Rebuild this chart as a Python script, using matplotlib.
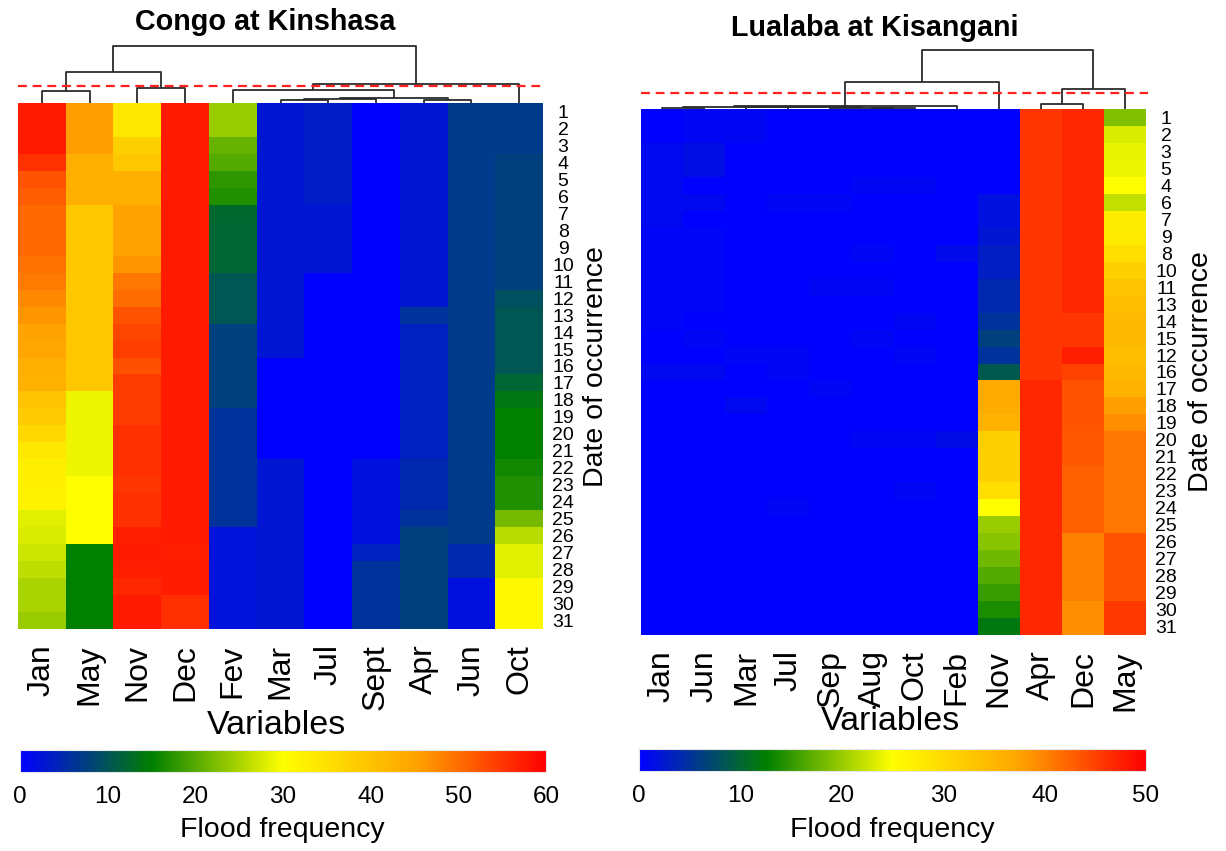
import numpy as np
import matplotlib
matplotlib.use("Agg")
import matplotlib.pyplot as plt
from matplotlib.colors import LinearSegmentedColormap, Normalize
from matplotlib.cm import ScalarMappable

plt.rcParams['font.family'] = ['Liberation Sans', 'DejaVu Sans']

# ---------------- data ----------------
left_title = "Congo at Kinshasa"
left_cols = ["Jan", "May", "Nov", "Dec", "Fev", "Mar", "Jul", "Sept", "Apr", "Jun", "Oct"]
left_rows = [str(i) for i in range(1, 32)]
left_vmax = 60
l_jan = [57.6, 57.6, 57.6, 55.4, 52.3, 51.5, 50.3, 50.3, 50.3, 49.6, 48.8, 47.5, 46.2, 45.0, 44.6, 43.2,
         43.0, 39.8, 38.5, 36.5, 33.8, 32.8, 32.5, 32.3, 28.2, 27.7, 27.0, 26.2, 25.0, 25.0, 24.0]
l_may = [45.5, 45.5, 45.5, 43.2, 43.2, 43.2, 39.2, 39.2, 39.2, 39.2, 39.2, 39.2, 39.2, 39.2, 39.2, 39.2,
         39.2, 29.0, 29.0, 29.0, 29.0, 29.0, 30.0, 30.0, 30.0, 30.0, 15.0, 15.0, 15.0, 15.0, 15.0]
l_nov = [33.8, 33.8, 37.8, 39.2, 43.2, 43.2, 45.0, 45.0, 45.0, 46.2, 49.1, 50.0, 52.3, 53.5, 54.2, 52.7,
         54.5, 54.5, 54.5, 55.6, 55.6, 55.6, 54.9, 55.6, 55.6, 57.1, 57.6, 57.1, 56.4, 57.6, 57.6]
l_dec = [57.6, 57.6, 57.6, 57.6, 57.6, 57.6, 57.6, 57.6, 57.6, 57.6, 57.6, 57.6, 57.6, 57.6, 57.6, 57.6,
         57.6, 57.6, 57.6, 57.6, 57.6, 57.6, 57.6, 57.6, 57.6, 57.6, 57.1, 57.4, 57.4, 55.6, 55.6]
l_fev = [24.0, 24.0, 21.0, 20.0, 17.6, 16.9, 12.4, 12.0, 12.0, 12.0, 10.3, 10.3, 10.3, 7.5, 7.5, 7.5,
         7.5, 7.5, 6.0, 6.0, 6.0, 6.0, 6.0, 6.0, 6.0, 2.3, 2.3, 2.3, 2.3, 2.3, 2.3]
l_mar = [2.8, 2.8, 2.8, 2.8, 2.8, 2.8, 2.8, 2.8, 2.8, 2.8, 2.8, 2.8, 2.8, 2.8, 2.8, 0.0,
         0.0, 0.0, 0.0, 0.0, 0.0, 2.8, 2.8, 2.8, 2.8, 2.8, 2.8, 2.8, 2.8, 2.8, 2.8]
l_jul = [3.5, 3.5, 3.5, 3.5, 3.5, 3.5, 2.8, 2.8, 2.8, 2.8, 0.0, 0.0, 0.0, 0.0, 0.0, 0.0,
         0.0, 0.0, 0.0, 0.0, 0.0, 0.0, 0.0, 0.0, 0.0, 0.0, 0.0, 0.0, 0.0, 0.0, 0.0]
l_sept = [0.0, 0.0, 0.0, 0.0, 0.0, 0.0, 0.0, 0.0, 0.0, 0.0, 0.0, 0.0, 0.0, 0.0, 0.0, 0.0,
          0.0, 0.0, 0.0, 0.0, 0.0, 1.9, 1.9, 1.9, 1.9, 1.9, 3.75, 6.0, 6.0, 6.0, 6.0]
l_apr = [2.8, 2.8, 2.8, 2.8, 2.8, 2.8, 2.8, 2.8, 2.8, 2.8, 2.8, 2.8, 6.0, 3.75, 3.75, 3.75,
         3.75, 3.75, 3.75, 3.75, 3.75, 4.7, 4.7, 4.7, 6.0, 7.5, 7.5, 7.5, 7.5, 7.5, 7.5]
l_jun = [6.8, 6.8, 6.8, 6.8, 6.8, 6.8, 6.8, 6.8, 6.8, 6.8, 6.8, 6.8, 6.8, 6.8, 6.8, 6.8,
         6.8, 6.8, 6.8, 6.8, 6.8, 6.8, 6.8, 6.8, 6.8, 6.8, 4.9, 4.9, 1.9, 1.9, 1.9]
l_oct = [6.8, 6.8, 6.8, 7.5, 7.5, 7.5, 7.5, 7.5, 7.5, 7.5, 7.5, 9.4, 10.3, 10.3, 10.3, 10.3,
         12.0, 14.0, 15.0, 15.0, 15.0, 16.0, 16.9, 16.9, 22.0, 26.0, 28.2, 28.2, 31.0, 31.0, 31.0]
# dendrogram merges (leaf ids 0..10, cluster ids continue from 11)
left_merge_a = [0, 2, 5, 13, 8, 14, 4, 17, 11, 19]
left_merge_b = [1, 3, 6, 7, 9, 15, 16, 10, 12, 18]
left_merge_h = [12.3, 14.7, 3.3, 4.0, 3.0, 5.0, 13.3, 19.0, 31.3, 57.3]
left_cut = 16.7

right_title = "Lualaba at Kisangani"
right_cols = ["Jan", "Jun", "Mar", "Jul", "Sep", "Aug", "Oct", "Feb", "Nov", "Apr", "Dec", "May"]
right_rows = ["1", "2", "3", "5", "4", "6", "7", "9", "8", "10", "11", "13", "14", "15", "12", "16",
              "17", "18", "19", "20", "21", "22", "23", "24", "25", "26", "27", "28", "29", "30", "31"]
right_vmax = 50
r_jan = [0, 0, 0.8, 0.8, 0.8, 0.8, 0.8, 0.5, 0.5, 0.5, 0.5, 0.5, 0.5, 0, 0, 0.8,
         0, 0, 0, 0, 0, 0, 0, 0, 0, 0, 0, 0, 0, 0, 0]
r_jun = [0.6, 0.6, 1.4, 1.4, 0, 0.8, 0, 0.5, 0.5, 0.5, 0.5, 0.5, 0, 0.7, 0, 0.8,
         0, 0, 0, 0, 0, 0, 0, 0, 0, 0, 0, 0, 0, 0, 0]
r_mar = [0.6, 0.6, 0, 0, 0, 0, 0, 0, 0, 0, 0, 0, 0, 0, 0.7, 0,
         0, 0.8, 0, 0, 0, 0, 0, 0, 0, 0, 0, 0, 0, 0, 0]
r_jul = [0, 0, 0, 0, 0, 0.7, 0, 0, 0, 0, 0, 0, 0, 0, 0.7, 0.7,
         0, 0, 0, 0, 0, 0, 0, 0.7, 0, 0, 0, 0, 0, 0, 0]
r_sep = [0, 0, 0, 0, 0, 0.7, 0, 0, 0, 0, 0.6, 0, 0, 0, 0, 0,
         0.6, 0, 0, 0, 0, 0, 0, 0, 0, 0, 0, 0, 0, 0, 0]
r_aug = [0, 0, 0, 0, 0.7, 0, 0, 0, 0.7, 0, 0.6, 0, 0, 0.6, 0, 0,
         0, 0, 0, 0.6, 0, 0, 0, 0, 0, 0, 0, 0, 0, 0, 0]
r_oct = [0, 0, 0, 0, 0.7, 0, 0, 0, 0, 0, 0, 0, 0.7, 0, 0.7, 0,
         0, 0, 0, 0.6, 0, 0, 0.6, 0, 0, 0, 0, 0, 0, 0, 0]
r_feb = [0, 0, 0, 0, 0, 0, 0, 0, 1.0, 0, 0, 0, 0, 0, 0, 0,
         0, 0, 0, 1.2, 0, 0, 0, 0, 0, 0, 0, 0, 0, 0, 0]
r_nov = [0, 0, 0, 0, 0, 1.6, 1.6, 2.3, 3.1, 3.1, 4.1, 4.1, 5.0, 6.25, 5.0, 8.6,
         36.8, 36.4, 35.5, 31.5, 31.5, 31.5, 29.3, 25.0, 20.0, 19.2, 18.0, 16.7, 15.3, 13.8, 11.9]
r_apr = [45.8, 45.8, 45.8, 45.8, 45.8, 45.8, 45.8, 45.8, 45.8, 45.8, 45.8, 45.8, 45.8, 45.8, 45.8, 45.8,
         47.0, 47.0, 47.0, 47.0, 47.0, 47.0, 47.0, 47.0, 47.0, 47.0, 47.0, 47.0, 47.0, 47.0, 47.0]
r_dec = [47.0, 47.0, 47.0, 47.0, 47.0, 47.0, 47.0, 47.0, 47.0, 47.0, 47.0, 47.0, 45.8, 45.8, 47.6, 45.1,
         43.6, 43.6, 43.6, 43.2, 43.2, 42.7, 42.7, 42.7, 42.7, 40.3, 40.3, 40.3, 40.3, 39.1, 39.1]
r_may = [18.8, 23.1, 23.9, 24.2, 25.0, 21.9, 27.4, 27.9, 29.3, 31.5, 33.2, 33.8, 34.6, 34.6, 33.8, 34.9,
         35.4, 37.8, 39.1, 40.9, 40.9, 40.9, 40.9, 40.9, 40.9, 43.6, 43.6, 43.6, 43.6, 45.6, 45.6]
# leaf ids 0..11, clusters from 12
right_merge_a = [5, 4, 3, 2, 0, 16, 17, 18, 9, 20, 19]
right_merge_b = [6, 12, 13, 14, 1, 15, 7, 8, 10, 11, 21]
right_merge_h = [1.0, 1.3, 1.6, 2.0, 1.5, 2.3, 2.6, 26.7, 5.0, 20.0, 59.3]
right_cut = 16.0

# ---------------- style ----------------
cmap = LinearSegmentedColormap.from_list(
    "flood", [(0.0, "#0000FF"), (0.25, "#008000"), (0.5, "#FFFF00"), (0.75, "#FFA500"), (1.0, "#FF0000")])
W, H = 1226, 851
fig = plt.figure(figsize=(W / 100, H / 100), dpi=100)
fig.patch.set_facecolor("white")


def px_axes(x0, y0, x1, y1):
    return fig.add_axes([x0 / W, 1 - y1 / H, (x1 - x0) / W, (y1 - y0) / H])


def draw_dendro(ax, n, ma, mb, mh, cut):
    pos = {i: i + 0.5 for i in range(n)}
    hgt = {i: 0.0 for i in range(n)}
    for k, (a, b, h) in enumerate(zip(ma, mb, mh)):
        ax.plot([pos[a], pos[a], pos[b], pos[b]], [hgt[a], h, h, hgt[b]],
                color="#2b2b2b", lw=1.3, solid_capstyle="butt", clip_on=False)
        pos[n + k] = (pos[a] + pos[b]) / 2
        hgt[n + k] = h
    ax.plot([0, n + 0.05], [cut, cut], color="#FF2020", lw=1.6, ls=(0, (4, 2.6)), clip_on=False)
    ax.set_xlim(0, n)
    ax.set_ylim(0, 62)
    ax.axis("off")


def draw_panel(box, cols, rows, colvals, vmax, ma, mb, mh, cut, title, title_xy,
               ylab_x, ylab_y, var_xy, cbox, ff_xy):
    x0, y0, x1, y1 = box
    data = np.array(colvals).T  # rows x cols
    n = len(cols)
    ax = px_axes(x0, y0, x1, y1)
    ax.pcolormesh(np.arange(n + 1), np.arange(len(rows) + 1), data, cmap=cmap,
                  vmin=0, vmax=vmax, shading="flat")
    ax.set_xlim(0, n)
    ax.set_ylim(len(rows), 0)
    for s in ax.spines.values():
        s.set_visible(False)
    ax.set_xticks(np.arange(n) + 0.5)
    ax.set_xticklabels(cols)
    ax.tick_params(axis="x", length=0, pad=11, labelsize=23, labelrotation=90)
    ax.yaxis.tick_right()
    ax.set_yticks(np.arange(len(rows)) + 0.5)
    ax.set_yticklabels(rows)
    ax.tick_params(axis="y", length=0, pad=14.5, labelsize=14)
    for lbl in ax.get_yticklabels():
        lbl.set_horizontalalignment("center")

    axd = px_axes(x0, y0 - 62, x1, y0)
    draw_dendro(axd, n, ma, mb, mh, cut)

    fig.text(title_xy[0] / W, 1 - title_xy[1] / H, title, ha="center", va="center",
             fontsize=20.7, fontweight="bold")
    fig.text(ylab_x / W, 1 - ylab_y / H, "Date of occurrence", rotation=90,
             ha="center", va="center", fontsize=20.5)
    fig.text(var_xy[0] / W, 1 - var_xy[1] / H, "Variables", ha="center", va="center", fontsize=24.5)

    cax = px_axes(*cbox)
    cb = fig.colorbar(ScalarMappable(norm=Normalize(0, vmax), cmap=cmap), cax=cax,
                      orientation="horizontal")
    cb.set_ticks(np.arange(0, vmax + 1, 10))
    cax.tick_params(length=0, labelsize=17.5, pad=10)
    cb.outline.set_edgecolor("#e6e6e6")
    cb.outline.set_linewidth(0.8)
    fig.text(ff_xy[0] / W, 1 - ff_xy[1] / H, "Flood frequency", ha="center", va="center",
             fontsize=20.5)


draw_panel((18, 103, 543, 629), left_cols, left_rows,
           [l_jan, l_may, l_nov, l_dec, l_fev, l_mar, l_jul, l_sept, l_apr, l_jun, l_oct],
           left_vmax, left_merge_a, left_merge_b, left_merge_h, left_cut,
           left_title, (265, 22), 596, 367, (276, 725), (20, 750, 546, 772), (282, 830))

draw_panel((641, 109, 1146, 635), right_cols, right_rows,
           [r_jan, r_jun, r_mar, r_jul, r_sep, r_aug, r_oct, r_feb, r_nov, r_apr, r_dec, r_may],
           right_vmax, right_merge_a, right_merge_b, right_merge_h, right_cut,
           right_title, (875, 28), 1201, 372, (890, 722), (639, 749, 1146, 771), (892, 830))

fig.savefig("out.png", dpi=100, facecolor="white")
